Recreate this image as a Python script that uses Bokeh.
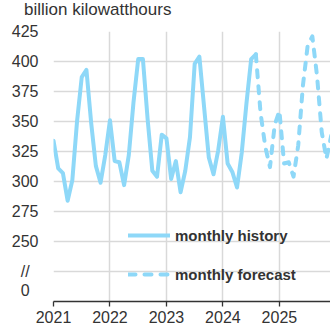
from bokeh.plotting import figure
from bokeh.layouts import column
from bokeh.models import FixedTicker, Legend, LegendItem, ColumnDataSource, Div
from bokeh.embed import file_html
from bokeh.resources import INLINE

# ---- data ----
hist_months = ["2021-01", "2021-02", "2021-03", "2021-04", "2021-05", "2021-06",
               "2021-07", "2021-08", "2021-09", "2021-10", "2021-11", "2021-12",
               "2022-01", "2022-02", "2022-03", "2022-04", "2022-05", "2022-06",
               "2022-07", "2022-08", "2022-09", "2022-10", "2022-11", "2022-12",
               "2023-01", "2023-02", "2023-03", "2023-04", "2023-05", "2023-06",
               "2023-07", "2023-08", "2023-09", "2023-10", "2023-11", "2023-12",
               "2024-01", "2024-02", "2024-03", "2024-04", "2024-05", "2024-06",
               "2024-07", "2024-08"]
hist_values = [334, 311, 307, 284, 301, 350, 387, 393, 349, 313, 299, 322,
               351, 317, 316, 297, 322, 366, 402, 402, 352, 309, 304, 339,
               336, 302, 317, 291, 309, 337, 398, 404, 362, 320, 306, 326,
               354, 315, 308, 295, 324, 365, 402, 406]

fc_months = ["2024-08", "2024-09", "2024-10", "2024-11", "2024-12",
             "2025-01", "2025-02", "2025-03", "2025-04", "2025-05", "2025-06",
             "2025-07", "2025-08", "2025-09", "2025-10", "2025-11", "2025-12"]
fc_values = [406, 357, 329, 312, 347,
             359, 315, 316, 304, 330, 380, 413, 421, 388, 341, 319, 338]

year_ticks = [2021, 2022, 2023, 2024, 2025]
y_ticks = [209, 225, 250, 275, 300, 325, 350, 375, 400, 425]
y_grid = [225, 250, 275, 300, 325, 350, 375, 400, 425]
y_label_overrides = {209: "0\u2007", 225: "//\u2007"}

title_text = "billion kilowatthours"
legend_labels = ["monthly history", "monthly forecast"]


def month_to_x(s):
    y, m = s.split("-")
    return int(y) + (int(m) - 1) / 12.0


hist_src = ColumnDataSource(dict(x=[month_to_x(m) for m in hist_months], y=hist_values))
fc_src = ColumnDataSource(dict(x=[month_to_x(m) for m in fc_months], y=fc_values))

LINE = "#8ED8F8"
GRID = "#D9D9D9"
TXT = "#333333"

# ---- unit title above the chart ----
HEAD_H = 19
head = Div(text=title_text, width=330, height=HEAD_H, margin=(0, 0, 0, 0),
           styles={"font-family": "Liberation Sans, Arial, sans-serif",
                   "font-size": "17px", "line-height": "19px",
                   "color": TXT, "text-indent": "24px",
                   "white-space": "nowrap", "overflow": "visible"})

# ---- main chart ----
p = figure(frame_width=277, frame_height=270,
           x_range=(2021, 2025.905), y_range=(200, 425),
           output_backend="svg", toolbar_location=None,
           min_border_left=53, min_border_right=0,
           min_border_top=31 - HEAD_H, min_border_bottom=26,
           margin=(0, 0, 0, 0))
p.outline_line_color = None
p.background_fill_color = "white"
p.border_fill_color = "white"

r_hist = p.line("x", "y", source=hist_src, line_color=LINE, line_width=4,
                line_cap="round", line_join="round")
r_fc = p.line("x", "y", source=fc_src, line_color=LINE, line_width=4,
              line_dash="7 9", line_cap="round", line_join="round")

xa = p.xaxis[0]
xa.ticker = FixedTicker(ticks=year_ticks)
xa.axis_line_color = TXT
xa.axis_line_width = 1.3
xa.major_tick_line_color = TXT
xa.major_tick_line_width = 1.3
xa.major_tick_in = 0
xa.major_tick_out = 5
xa.minor_tick_line_color = None
xa.major_label_standoff = 4
xa.major_label_text_font = "Liberation Sans"
xa.major_label_text_font_size = "16px"
xa.major_label_text_color = TXT

ya = p.yaxis[0]
ya.ticker = FixedTicker(ticks=y_ticks)
ya.major_label_overrides = y_label_overrides
ya.axis_line_color = None
ya.major_tick_line_color = None
ya.minor_tick_line_color = None
ya.major_tick_in = 0
ya.major_tick_out = 0
ya.major_label_standoff = 15
ya.major_label_text_font = "Liberation Sans"
ya.major_label_text_font_size = "16px"
ya.major_label_text_color = TXT

p.xgrid.ticker = FixedTicker(ticks=year_ticks)
p.ygrid.ticker = FixedTicker(ticks=y_grid)
p.xgrid.grid_line_color = GRID
p.ygrid.grid_line_color = GRID
p.xgrid.grid_line_width = 1.5
p.ygrid.grid_line_width = 1.5

legend = Legend(items=[LegendItem(label=legend_labels[0], renderers=[r_hist]),
                       LegendItem(label=legend_labels[1], renderers=[r_fc])],
                location=(75, 17), orientation="vertical",
                glyph_width=42, glyph_height=20, label_height=20,
                label_standoff=5, spacing=19, padding=0, margin=0,
                background_fill_alpha=0, border_line_alpha=0,
                label_text_font="Liberation Sans", label_text_font_size="15px",
                label_text_font_style="bold", label_text_color=TXT)
p.add_layout(legend, "center")

layout = column(head, p, spacing=0, margin=(0, 0, 0, 0))
open("out.html", "w").write(file_html(layout, INLINE))
